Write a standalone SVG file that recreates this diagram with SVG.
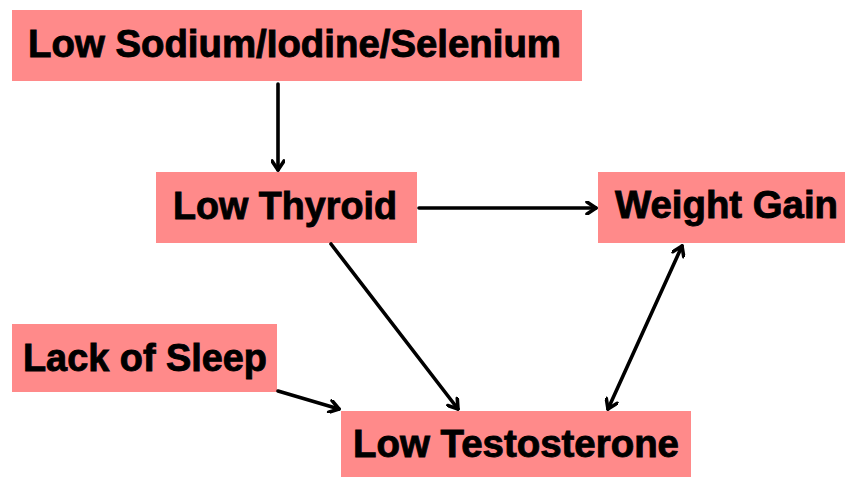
<svg xmlns="http://www.w3.org/2000/svg" width="845" height="477" viewBox="0 0 845 477">
<style>
.box{fill:#FF8A8A;}
.lbl{font-family:"Liberation Sans",Arial,sans-serif;font-weight:bold;font-size:38px;fill:#000;stroke:#000;stroke-width:0.9;}
.edge{stroke:#000;stroke-width:3.6;fill:none;stroke-linecap:round;}
</style>
<defs>
<marker id="arr" viewBox="0 0 14 14" markerWidth="14" markerHeight="14" refX="12" refY="7" orient="auto-start-reverse" markerUnits="userSpaceOnUse">
<path d="M3,1 L12,7 L3,13" fill="none" stroke="#000" stroke-width="3.6" stroke-linecap="round" stroke-linejoin="round"/>
</marker>
</defs>
<rect width="845" height="477" fill="#fff"/>
<g id="minerals"><rect class="box" x="12" y="10" width="570" height="71"/><text class="lbl" x="28" y="57" textLength="533" lengthAdjust="spacingAndGlyphs">Low Sodium/Iodine/Selenium</text></g>
<g id="thyroid"><rect class="box" x="156" y="172" width="261" height="71"/><text class="lbl" x="173" y="219" textLength="224" lengthAdjust="spacingAndGlyphs">Low Thyroid</text></g>
<g id="weight"><rect class="box" x="598" y="172" width="247" height="71"/><text class="lbl" x="615" y="218" textLength="223" lengthAdjust="spacingAndGlyphs">Weight Gain</text></g>
<g id="sleep"><rect class="box" x="12" y="324" width="265" height="68"/><text class="lbl" x="23" y="371" textLength="244" lengthAdjust="spacingAndGlyphs">Lack of Sleep</text></g>
<g id="testosterone"><rect class="box" x="341" y="411" width="350" height="66"/><text class="lbl" x="353" y="457" textLength="326" lengthAdjust="spacingAndGlyphs">Low Testosterone</text></g>
<g id="connectors">
<line class="edge" x1="278" y1="84" x2="278" y2="170" marker-end="url(#arr)"/>
<line class="edge" x1="419" y1="208" x2="596" y2="208" marker-end="url(#arr)"/>
<line class="edge" x1="331" y1="244" x2="458" y2="409" marker-end="url(#arr)"/>
<line class="edge" x1="278" y1="391" x2="339" y2="409" marker-end="url(#arr)"/>
<line class="edge" x1="608" y1="409" x2="682" y2="246" marker-start="url(#arr)" marker-end="url(#arr)"/>
</g>
</svg>
